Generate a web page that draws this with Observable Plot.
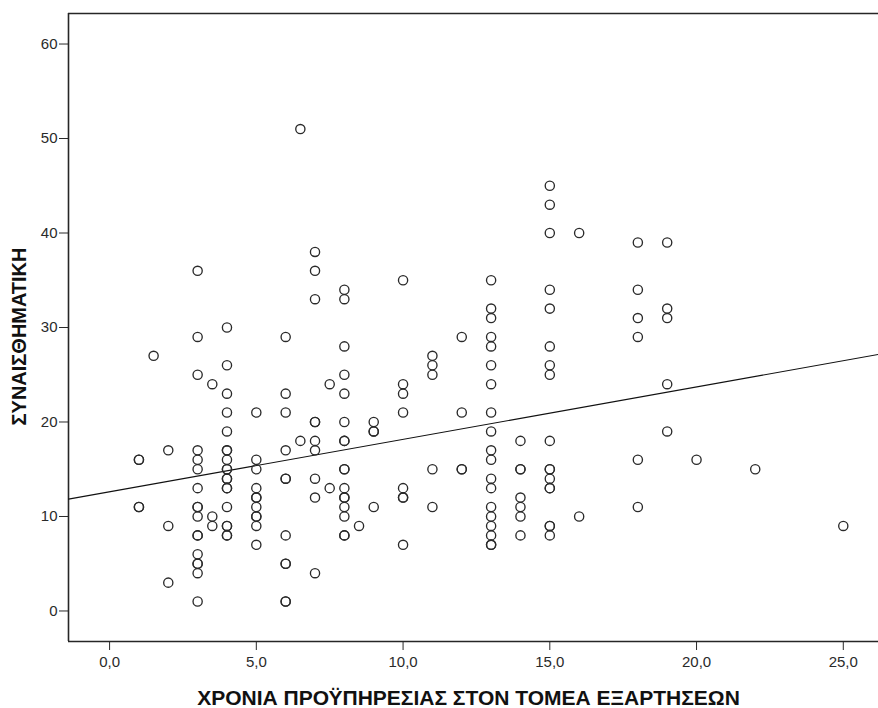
<!DOCTYPE html>
<html>
<head>
<meta charset="utf-8">
<script src="https://cdn.jsdelivr.net/npm/d3@7"></script>
<script src="https://cdn.jsdelivr.net/npm/@observablehq/plot@0.6"></script>
<style>
  html, body { margin: 0; padding: 0; background: #fff; }
  #chart svg { display: block; }
</style>
</head>
<body>
<div id="chart"></div>
<script>
// Years of service in the addiction sector (one entry per column of cases)
const serviceYears = [1, 1.5, 2, 3, 3.5, 4, 5, 6, 6.5, 7, 7.5, 8, 8.5, 9, 10, 11, 12, 13, 14, 15, 16, 18, 19, 20, 22, 25];

// Emotional exhaustion scores of the cases at each of the years above
const scoreColumns = [
  [16, 16, 11, 11],
  [27],
  [17, 9, 3],
  [36, 29, 25, 17, 16, 15, 13, 11, 11, 10, 8, 8, 6, 5, 5, 4, 1],
  [24, 10, 9],
  [30, 26, 23, 21, 19, 17, 17, 16, 15, 15, 14, 14, 13, 13, 11, 9, 9, 8, 8],
  [21, 16, 15, 13, 12, 12, 11, 10, 10, 9, 7],
  [29, 23, 21, 17, 14, 14, 8, 5, 5, 1, 1],
  [51, 18],
  [38, 36, 33, 20, 20, 18, 17, 14, 12, 4],
  [24, 13],
  [34, 33, 28, 25, 23, 20, 18, 18, 15, 15, 13, 12, 12, 11, 10, 8, 8],
  [9],
  [20, 19, 19, 11],
  [35, 24, 23, 21, 13, 12, 12, 7],
  [27, 26, 25, 15, 11],
  [29, 21, 15, 15],
  [35, 32, 31, 29, 28, 26, 24, 21, 19, 17, 16, 14, 13, 11, 10, 9, 8, 7, 7],
  [18, 15, 15, 12, 11, 10, 8],
  [45, 43, 40, 34, 32, 28, 26, 25, 18, 15, 15, 14, 13, 13, 9, 9, 8],
  [40, 10],
  [39, 34, 31, 29, 16, 11],
  [39, 32, 31, 24, 19],
  [16],
  [15],
  [9]
];

// Linear fit line (total)
const fitIntercept = 12.61;
const fitSlope = 0.555;

const xTicks = [0, 5, 10, 15, 20, 25];
const yTicks = [0, 10, 20, 30, 40, 50, 60];
const xLabel = "ΧΡΟΝΙΑ ΠΡΟΫΠΗΡΕΣΙΑΣ ΣΤΟΝ ΤΟΜΕΑ ΕΞΑΡΤΗΣΕΩΝ";
const yLabel = "ΣΥΝΑΙΣΘΗΜΑΤΙΚΗ";

const xDomain = [-1.4, 26.2];
const yDomain = [-3.23, 63.23];

// Build the case table
const cases = serviceYears.flatMap((x, i) => scoreColumns[i].map(y => ({x, y})));
const fitLine = xDomain.map(x => ({x, y: fitIntercept + fitSlope * x}));

const comma = d => d.toFixed(1).replace(".", ",");
const ink = "#262626";

const chart = Plot.plot({
  width: 878,
  height: 708,
  marginLeft: 68,
  marginRight: 0,
  marginTop: 13,
  marginBottom: 67,
  style: {
    fontFamily: "'Liberation Sans', Arial, sans-serif",
    fontSize: "15px",
    color: "#2a2a2a",
    background: "#fff"
  },
  x: {domain: xDomain, ticks: xTicks, tickFormat: comma, tickSize: 9, tickPadding: 6, label: null},
  y: {domain: yDomain, ticks: yTicks, tickFormat: d => String(d), tickSize: 9, tickPadding: 2, label: null},
  marks: [
    // plot frame: left, bottom and top edges
    Plot.ruleX([xDomain[0]], {stroke: ink, strokeWidth: 1.6}),
    Plot.ruleY([yDomain[0], yDomain[1]], {stroke: ink, strokeWidth: 1.6}),
    Plot.line(fitLine, {x: "x", y: "y", stroke: "#111", strokeWidth: 1.1, clip: true}),
    Plot.dot(cases, {x: "x", y: "y", r: 4.6, stroke: "#2a2a2a", strokeWidth: 1.35, fill: "none"}),
    Plot.text([xLabel], {
      text: d => d, frameAnchor: "bottom", lineAnchor: "middle", textAnchor: "middle",
      dy: 57, dx: -5, fontWeight: "bold", fontSize: 21, fill: "#111"
    }),
    Plot.text([yLabel], {
      text: d => d, frameAnchor: "left", lineAnchor: "middle", textAnchor: "middle",
      rotate: -90, dx: -49, dy: 9, fontWeight: "bold", fontSize: 20, fill: "#111"
    })
  ]
});

document.getElementById("chart").appendChild(chart);
</script>
</body>
</html>
